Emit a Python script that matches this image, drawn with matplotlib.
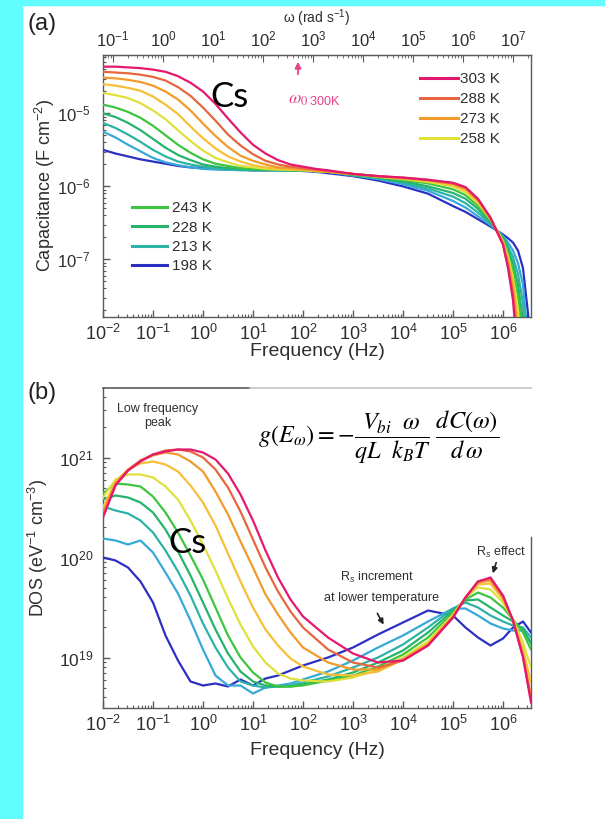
import numpy as np
import matplotlib
matplotlib.use("Agg")
import matplotlib.pyplot as plt
from matplotlib.patches import Rectangle
from matplotlib.ticker import LogLocator, NullFormatter, FixedLocator

plt.rcParams['font.family'] = ['Liberation Sans', 'DejaVu Sans']
plt.rcParams['mathtext.fontset'] = 'custom'
plt.rcParams['mathtext.rm'] = 'Liberation Sans'
plt.rcParams['mathtext.it'] = 'Liberation Sans:italic'
plt.rcParams['mathtext.bf'] = 'Liberation Sans:bold'

nan = float('nan')
W, H = 605, 819

# ---- data (log10 values) ----
labels = ['303 K', '288 K', '273 K', '', '258 K', '243 K', '228 K', '213 K', '', '198 K']
colors = ['#e3196f', '#e8663f', '#f39a2c', '#f7bf37', '#dfe03c',
          '#3ec43e', '#26b46c', '#2db3a6', '#37a9d8', '#2b30c2']
omega_ticks = [1e-1, 1e0, 1e1, 1e2, 1e3, 1e4, 1e5, 1e6, 1e7]

# panel (a): capacitance vs frequency
logf_a = [-2, -1.75, -1.5, -1.25, -1, -0.75, -0.5, -0.25, 0, 0.25, 0.5, 0.75, 1, 1.25,
          1.5, 1.75, 2, 2.25, 2.5, 3, 3.5, 4, 4.5, 5, 5.25, 5.5, 5.75, 6, 6.1, 6.2,
          6.3, 6.4, 6.5, 6.6]
cap_0 = [-4.36, -4.36, -4.37, -4.38, -4.40, -4.43, -4.49, -4.58, -4.70, -4.87, -5.07, -5.26,
         -5.43, -5.55, -5.64, -5.70, -5.73, -5.76, -5.78, -5.83, -5.86, -5.88, -5.91, -5.95,
         -6.01, -6.17, -6.43, -6.80, -7.12, -7.56, -8.4, nan, nan, nan]
cap_1 = [-4.43, -4.44, -4.45, -4.47, -4.50, -4.55, -4.64, -4.76, -4.92, -5.10, -5.29, -5.44,
         -5.56, -5.65, -5.70, -5.73, -5.75, -5.77, -5.79, -5.83, -5.86, -5.88, -5.91, -5.96,
         -6.02, -6.18, -6.43, -6.79, -7.08, -7.48, -8.2, nan, nan, nan]
cap_2 = [-4.51, -4.52, -4.54, -4.57, -4.62, -4.70, -4.81, -4.96, -5.14, -5.31, -5.46, -5.58,
         -5.65, -5.70, -5.74, -5.75, -5.77, -5.78, -5.80, -5.83, -5.86, -5.89, -5.92, -5.97,
         -6.03, -6.19, -6.44, -6.78, -7.04, -7.40, -8.0, nan, nan, nan]
cap_3 = [-4.60, -4.62, -4.65, -4.69, -4.77, -4.88, -5.01, -5.18, -5.34, -5.48, -5.59, -5.66,
         -5.71, -5.74, -5.76, -5.77, -5.77, -5.79, -5.80, -5.83, -5.86, -5.89, -5.92, -5.98,
         -6.05, -6.21, -6.44, -6.77, -7.00, -7.32, -7.85, -9.0, nan, nan]
cap_4 = [-4.72, -4.75, -4.79, -4.86, -4.96, -5.08, -5.23, -5.38, -5.51, -5.61, -5.67, -5.72,
         -5.74, -5.76, -5.77, -5.77, -5.78, -5.79, -5.80, -5.83, -5.87, -5.90, -5.94, -6.00,
         -6.08, -6.23, -6.45, -6.75, -6.96, -7.25, -7.70, -8.6, nan, nan]
cap_5 = [-4.88, -4.92, -4.98, -5.06, -5.17, -5.30, -5.43, -5.54, -5.63, -5.69, -5.72, -5.75,
         -5.76, -5.77, -5.77, -5.78, -5.78, -5.79, -5.80, -5.84, -5.87, -5.91, -5.96, -6.04,
         -6.12, -6.27, -6.47, -6.73, -6.92, -7.16, -7.50, -8.1, nan, nan]
cap_6 = [-5.00, -5.05, -5.13, -5.23, -5.35, -5.47, -5.57, -5.64, -5.70, -5.73, -5.75, -5.76,
         -5.77, -5.77, -5.78, -5.78, -5.78, -5.79, -5.80, -5.84, -5.88, -5.93, -6.00, -6.09,
         -6.17, -6.31, -6.49, -6.71, -6.87, -7.06, -7.35, -7.85, nan, nan]
cap_7 = [-5.13, -5.20, -5.29, -5.39, -5.50, -5.59, -5.66, -5.70, -5.73, -5.75, -5.77, -5.77,
         -5.78, -5.78, -5.78, -5.78, -5.78, -5.79, -5.80, -5.85, -5.89, -5.95, -6.03, -6.14,
         -6.23, -6.36, -6.51, -6.69, -6.82, -6.97, -7.20, -7.60, -8.6, nan]
cap_8 = [-5.25, -5.33, -5.43, -5.52, -5.61, -5.67, -5.71, -5.74, -5.76, -5.77, -5.77, -5.78,
         -5.78, -5.78, -5.78, -5.78, -5.78, -5.79, -5.80, -5.85, -5.90, -5.97, -6.06, -6.20,
         -6.29, -6.41, -6.53, -6.68, -6.77, -6.88, -7.05, -7.35, -8.1, nan]
cap_9 = [-5.50, -5.55, -5.59, -5.63, -5.66, -5.69, -5.72, -5.74, -5.75, -5.76, -5.77, -5.77,
         -5.78, -5.78, -5.78, -5.78, -5.79, -5.80, -5.82, -5.86, -5.92, -6.00, -6.10, -6.27,
         -6.35, -6.45, -6.55, -6.66, -6.71, -6.77, -6.88, -7.12, -7.74, -8.6]

# panel (b): density of states vs frequency
logf_b = [-2, -1.75, -1.5, -1.25, -1, -0.75, -0.5, -0.25, 0, 0.25, 0.5, 0.75, 1, 1.25, 1.5,
          1.75, 2, 2.5, 3, 3.5, 4, 4.5, 5, 5.25, 5.5, 5.75, 6, 6.2, 6.4, 6.56]
dos_0 = [20.40, 20.72, 20.87, 20.96, 21.03, 21.06, 21.08, 21.08, 21.05, 20.98, 20.84, 20.63,
         20.37, 20.07, 19.80, 19.58, 19.41, 19.20, 19.04, 18.95, 18.97, 19.12, 19.40, 19.60,
         19.76, 19.80, 19.62, 19.37, 19.00, 18.55]
dos_1 = [20.42, 20.73, 20.87, 20.97, 21.03, 21.07, 21.08, 21.06, 21.00, 20.88, 20.70, 20.46,
         20.18, 19.90, 19.66, 19.46, 19.30, 19.08, 18.95, 18.90, 18.97, 19.12, 19.40, 19.60,
         19.76, 19.79, 19.61, 19.37, 19.01, 18.58]
dos_2 = [20.45, 20.74, 20.88, 20.97, 21.02, 21.05, 21.03, 20.96, 20.86, 20.66, 20.43, 20.16,
         19.90, 19.63, 19.43, 19.25, 19.10, 18.95, 18.88, 18.88, 18.98, 19.13, 19.41, 19.60,
         19.75, 19.77, 19.60, 19.37, 19.03, 18.62]
dos_3 = [20.50, 20.76, 20.88, 20.94, 20.96, 20.93, 20.86, 20.72, 20.55, 20.32, 20.04, 19.76,
         19.50, 19.28, 19.12, 18.99, 18.91, 18.83, 18.82, 18.86, 18.98, 19.14, 19.42, 19.60,
         19.73, 19.74, 19.58, 19.37, 19.08, 18.75]
dos_4 = [20.60, 20.78, 20.83, 20.83, 20.80, 20.71, 20.58, 20.37, 20.13, 19.87, 19.59, 19.33,
         19.11, 18.95, 18.84, 18.79, 18.77, 18.76, 18.80, 18.88, 19.00, 19.16, 19.43, 19.60,
         19.70, 19.68, 19.55, 19.38, 19.15, 18.90]
dos_5 = [20.64, 20.74, 20.73, 20.71, 20.61, 20.45, 20.25, 20.02, 19.78, 19.50, 19.22, 19.00,
         18.85, 18.75, 18.71, 18.71, 18.72, 18.77, 18.82, 18.91, 19.03, 19.20, 19.45, 19.58,
         19.65, 19.60, 19.50, 19.38, 19.25, 19.08]
dos_6 = [20.58, 20.62, 20.60, 20.55, 20.45, 20.28, 20.06, 19.82, 19.55, 19.28, 19.04, 18.86,
         18.76, 18.72, 18.71, 18.71, 18.73, 18.78, 18.85, 18.95, 19.07, 19.25, 19.47, 19.57,
         19.58, 19.50, 19.42, 19.36, 19.28, 19.14]
dos_7 = [20.51, 20.47, 20.44, 20.37, 20.25, 20.07, 19.86, 19.62, 19.34, 19.10, 18.90, 18.76,
         18.72, 18.70, 18.71, 18.72, 18.75, 18.81, 18.90, 19.00, 19.13, 19.30, 19.49, 19.55,
         19.50, 19.42, 19.36, 19.32, 19.30, 19.20]
dos_8 = [20.19, 20.17, 20.13, 20.17, 20.05, 19.85, 19.64, 19.37, 19.08, 18.82, 18.72, 18.72,
         18.64, 18.70, 18.72, 18.74, 18.78, 18.86, 18.97, 19.10, 19.22, 19.36, 19.49, 19.49,
         19.42, 19.34, 19.29, 19.27, 19.27, 19.15]
dos_9 = [20.00, 19.97, 19.90, 19.76, 19.55, 19.22, 18.97, 18.76, 18.72, 18.74, 18.71, 18.78,
         18.72, 18.79, 18.82, 18.87, 18.92, 19.00, 19.10, 19.23, 19.35, 19.47, 19.42, 19.30,
         19.20, 19.12, 19.19, 19.30, 19.36, 19.25]

cap_curves = [cap_0, cap_1, cap_2, cap_3, cap_4, cap_5, cap_6, cap_7, cap_8, cap_9]
dos_curves = [dos_0, dos_1, dos_2, dos_3, dos_4, dos_5, dos_6, dos_7, dos_8, dos_9]

# ---- figure ----
fig = plt.figure(figsize=(W / 100, H / 100), dpi=100)
fig.patches.append(Rectangle((0, 0), 22 / W, 1, transform=fig.transFigure,
                             color='#62fdff', zorder=-1))
fig.patches.append(Rectangle((0, 1 - 5 / H), 1, 5 / H, transform=fig.transFigure,
                             color='#62fdff', zorder=-1))


def px(x, y):
    return x / W, 1 - y / H


spine_c = '#5a5a5a'
text_c = '#2e2e2e'


def style_axis(ax, ysize):
    ax.set_xscale('log')
    ax.set_yscale('log')
    ax.xaxis.set_major_locator(LogLocator(base=10, numticks=20))
    ax.xaxis.set_minor_locator(LogLocator(base=10, subs=np.arange(2, 10), numticks=20))
    ax.xaxis.set_minor_formatter(NullFormatter())
    ax.yaxis.set_major_locator(LogLocator(base=10, numticks=20))
    ax.yaxis.set_minor_locator(LogLocator(base=10, subs=np.arange(2, 10), numticks=20))
    ax.yaxis.set_minor_formatter(NullFormatter())
    ax.tick_params(which='both', direction='in', color=spine_c, labelcolor=text_c,
                   top=False, right=False)
    ax.tick_params(which='major', length=5, width=1)
    ax.tick_params(which='minor', length=2.5, width=0.8)
    ax.tick_params(axis='x', labelsize=13, pad=5)
    ax.tick_params(axis='y', labelsize=ysize, pad=9)
    for s in ax.spines.values():
        s.set_color(spine_c)
        s.set_linewidth(1.0)
    ax.set_xlim(10 ** -2, 10 ** 6.56)


# panel (a)
ax_a = fig.add_axes([103 / W, 1 - 317 / H, 428 / W, 262 / H])
style_axis(ax_a, 12)
ax_a.set_ylim(10 ** -7.79, 10 ** -4.2)
freq_a = np.power(10.0, logf_a)
lines_a = {}
for i in range(len(cap_curves) - 1, -1, -1):
    line, = ax_a.plot(freq_a, np.power(10.0, cap_curves[i]), color=colors[i], lw=1.6,
                      zorder=3 + (10 - i) * 0.1)
    lines_a[i] = line
labelled = [i for i in range(len(labels)) if labels[i]]
upper_ids, lower_ids = labelled[:4], labelled[4:]

leg1 = ax_a.legend([lines_a[i] for i in upper_ids], [labels[i] for i in upper_ids],
                   loc='upper left', bbox_to_anchor=px(420, 72), bbox_transform=fig.transFigure,
                   frameon=False, fontsize=11, handlelength=2.5, handletextpad=0.15,
                   labelspacing=0.4, borderpad=0, borderaxespad=0, labelcolor=text_c)
for lh in leg1.get_lines():
    lh.set_linewidth(2.2)
ax_a.add_artist(leg1)
leg2 = ax_a.legend([lines_a[i] for i in lower_ids], [labels[i] for i in lower_ids],
                   loc='upper left', bbox_to_anchor=px(132, 201), bbox_transform=fig.transFigure,
                   frameon=False, fontsize=11, handlelength=2.3, handletextpad=0.3,
                   labelspacing=0.36, borderpad=0, borderaxespad=0, labelcolor=text_c)
for lh in leg2.get_lines():
    lh.set_linewidth(2.2)

ax_a.set_xlabel('Frequency (Hz)', fontsize=14, color=text_c)
ax_a.xaxis.set_label_coords(0.5, -0.10)
ax_a.set_ylabel('Capacitance (F cm$^{-2}$)', fontsize=13, color=text_c)
ax_a.yaxis.set_label_coords(-0.108, 0.5)

sec = ax_a.secondary_xaxis('top', functions=(lambda f: 2 * np.pi * f,
                                             lambda w: w / (2 * np.pi)))
sec.xaxis.set_major_locator(FixedLocator(omega_ticks))
sec.xaxis.set_minor_locator(LogLocator(base=10, subs=np.arange(2, 10), numticks=20))
sec.xaxis.set_minor_formatter(NullFormatter())
sec.tick_params(which='both', direction='in', color=spine_c, labelcolor=text_c,
                labelsize=12, pad=4)
sec.tick_params(which='major', length=5)
sec.tick_params(which='minor', length=2.5)
sec.spines['top'].set_color(spine_c)
sec.set_xlabel('ω (rad s$^{-1}$)', fontsize=10, color=text_c, labelpad=5)

ax_a.annotate('', xy=px(298, 59), xytext=px(298, 77), xycoords='figure fraction',
              textcoords='figure fraction',
              arrowprops=dict(arrowstyle='-|>', color='#e8408a', lw=1.3, mutation_scale=9))
fig.text(*px(288, 104), r'$\omega_{0\ \mathregular{300K}}$', color='#e8408a', fontsize=13,
         math_fontfamily='stix', ha='left', va='baseline')
fig.text(*px(230, 97), 'Cs', fontsize=25, family='Lato', ha='center', va='center')

# panel (b)
ax_b = fig.add_axes([103 / W, 1 - 708 / H, 428 / W, 320 / H])
style_axis(ax_b, 12.5)
ax_b.tick_params(axis='y', pad=7)
ax_b.set_ylim(10 ** 18.495, 10 ** 21.695)
freq_b = np.power(10.0, logf_b)
for i in range(len(dos_curves) - 1, -1, -1):
    ax_b.plot(freq_b, np.power(10.0, dos_curves[i]), color=colors[i], lw=1.6,
              zorder=3 + (10 - i) * 0.1)
ax_b.spines['top'].set_visible(False)
ax_b.spines['right'].set_visible(False)
ax_b.plot([0, 0.343], [1, 1], transform=ax_b.transAxes, color=spine_c, lw=1.2, clip_on=False)
ax_b.plot([0.343, 1], [1, 1], transform=ax_b.transAxes, color='#c4c4c4', lw=1.2, clip_on=False)
ax_b.plot([1, 1], [0, 0.534], transform=ax_b.transAxes, color=spine_c, lw=1.0, clip_on=False)

ax_b.set_xlabel('Frequency (Hz)', fontsize=14, color=text_c)
ax_b.xaxis.set_label_coords(0.5, -0.105)
ax_b.set_ylabel('DOS (eV$^{-1}$ cm$^{-3}$)', fontsize=13, color=text_c)
ax_b.yaxis.set_label_coords(-0.125, 0.5)

fig.text(*px(158, 416), 'Low frequency\npeak', fontsize=9, color=text_c, ha='center',
         va='center', linespacing=1.15)
fig.text(*px(258, 437),
         r'$g\left(E_{\omega}\right)=-\dfrac{V_{bi}\ \ \omega}{qL\ \ k_{B}T}\ \dfrac{dC\left(\omega\right)}{d\,\omega}$',
         fontsize=17.5, math_fontfamily='stix', ha='left', va='center')
fig.text(*px(187, 543), 'Cs', fontsize=25, family='Lato', ha='center', va='center')
fig.text(*px(377, 577), 'R$_s$ increment', fontsize=9, color=text_c, ha='center', va='center')
fig.text(*px(381, 598), 'at lower temperature', fontsize=9, color=text_c, ha='center',
         va='center')
ax_b.annotate('', xy=px(385, 627), xytext=px(376, 611), xycoords='figure fraction',
              textcoords='figure fraction',
              arrowprops=dict(arrowstyle='-|>', color='#222222', lw=1.2, mutation_scale=8))
fig.text(*px(501, 552), 'R$_s$ effect', fontsize=9, color=text_c, ha='center', va='center')
ax_b.annotate('', xy=px(492, 576), xytext=px(497, 560), xycoords='figure fraction',
              textcoords='figure fraction',
              arrowprops=dict(arrowstyle='-|>', color='#222222', lw=1.2, mutation_scale=8))

fig.text(*px(42, 24), '(a)', fontsize=17, color='#222222', ha='center', va='center')
fig.text(*px(42, 393), '(b)', fontsize=17, color='#222222', ha='center', va='center')

fig.savefig('out.png', dpi=100, facecolor='white')
